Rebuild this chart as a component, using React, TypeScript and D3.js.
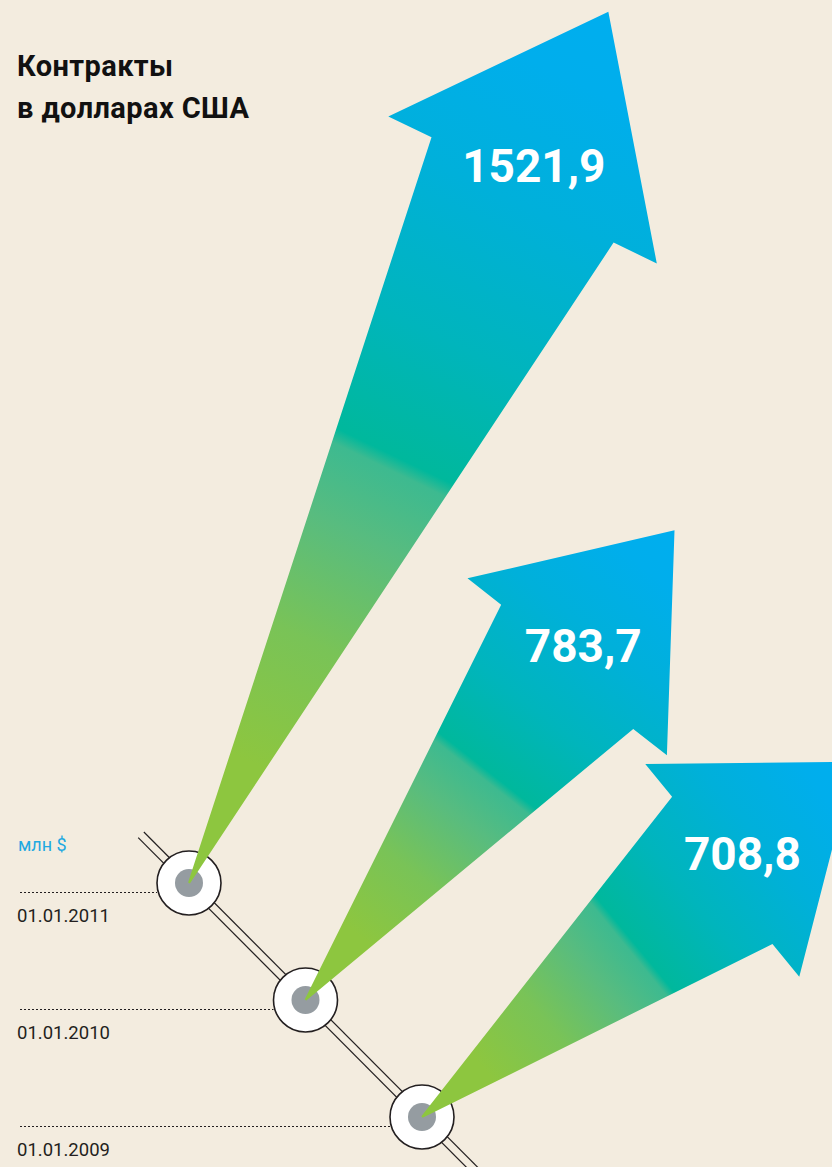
import { formatLocale, line, scaleLinear, scalePoint } from "d3";

// data
const dates = ["01.01.2011", "01.01.2010", "01.01.2009"];
const values = [1521.9, 783.7, 708.8];
const titleLines = ["Контракты", "в долларах США"];
const unitLabel = "млн $";

const W = 832;
const H = 1167;
const BG = "#F3ECDF";
const FONT = "Roboto, 'Open Sans', sans-serif";

const fmt = formatLocale({
  decimal: ",",
  thousands: "",
  grouping: [3],
  currency: ["", "$"],
}).format(".1f");

const gradStops: [number, string][] = [
  [0, "#8DC63F"],
  [0.14, "#8DC63F"],
  [0.28, "#79C357"],
  [0.4, "#58BC7F"],
  [0.475, "#3DBA90"],
  [0.49, "#00B89C"],
  [0.62, "#00B5BC"],
  [0.78, "#00B0DA"],
  [0.92, "#00AEEC"],
  [1, "#00AEEF"],
];

type Pt = [number, number];

export default function App() {
  // node positions along the diagonal track
  const xPos = scalePoint<string>().domain(dates).range([189, 422]);
  const yPos = scalePoint<string>().domain(dates).range([883, 1117]);
  // arrow direction (degrees above horizontal) and length from value
  const angle = scalePoint<string>().domain(dates).range([64.3, 39.4]);
  const lenScale = scaleLinear().domain([0, 1500]).range([205, 956]);
  const headLen = scaleLinear().domain([540, 970]).range([170, 198]);
  const barbHalf = scaleLinear().domain([540, 970]).range([130, 153]);
  const shoulderHalf = scaleLinear().domain([540, 970]).range([88, 105]);

  const poly = line<Pt>()
    .x((d) => d[0])
    .y((d) => d[1]);

  const first = dates[0];
  const last = dates[dates.length - 1];
  const dx0 = xPos(last)! - xPos(first)!;
  const dy0 = yPos(last)! - yPos(first)!;
  const dl = Math.hypot(dx0, dy0);
  const tx = dx0 / dl;
  const ty = dy0 / dl;
  const trackA: Pt = [xPos(first)! - tx * 68, yPos(first)! - ty * 68];
  const trackB: Pt = [xPos(last)! + tx * 90, yPos(last)! + ty * 90];
  const gap = 4;

  const arrows = dates.map((d, i) => {
    const ox = xPos(d)!;
    const oy = yPos(d)!;
    const a = (angle(d)! * Math.PI) / 180;
    const ux = Math.cos(a);
    const uy = -Math.sin(a);
    const nx = Math.sin(a);
    const ny = Math.cos(a);
    const L = lenScale(values[i]);
    const hl = headLen(L);
    const bh = barbHalf(L);
    const sh = shoulderHalf(L);
    const base = L - hl;
    const skew = 8;
    const P = (along: number, perp: number): Pt => [
      ox + ux * along + nx * perp,
      oy + uy * along + ny * perp,
    ];
    const pts: Pt[] = [
      P(0, -1),
      P(base + skew, -sh),
      P(base + skew, -bh),
      P(L, 0),
      P(base - skew, bh),
      P(base - skew, sh),
      P(0, 1),
    ];
    return {
      d,
      ox,
      oy,
      tip: P(L, 0),
      label: P(base + 26, 0),
      path: poly(pts.concat([pts[0]])) || "",
      text: fmt(values[i]),
    };
  });

  return (
    <svg
      width={W}
      height={H}
      style={{ position: "absolute", left: 0, top: 0, display: "block" }}
    >
      <defs>
        {arrows.map((a, i) => (
          <linearGradient
            key={a.d}
            id={`grad${i}`}
            gradientUnits="userSpaceOnUse"
            x1={a.ox}
            y1={a.oy}
            x2={a.tip[0]}
            y2={a.tip[1]}
          >
            {gradStops.map(([o, c]) => (
              <stop key={o} offset={o} stopColor={c} />
            ))}
          </linearGradient>
        ))}
      </defs>
      <rect width={W} height={H} fill={BG} />

      {/* title */}
      <text
        fontFamily={FONT}
        fontWeight={700}
        fontSize={29}
        letterSpacing={0.4}
        fill="#111"
      >
        {titleLines.map((t, i) => (
          <tspan key={t} x={17} y={76 + i * 42}>
            {t}
          </tspan>
        ))}
      </text>

      <text x={18} y={851} fontFamily={FONT} fontSize={18} fill="#1FA9E1">
        {unitLabel}
      </text>

      {/* double track */}
      {[-gap, gap].map((g) => (
        <line
          key={g}
          x1={trackA[0] - ty * g}
          y1={trackA[1] + tx * g}
          x2={trackB[0] - ty * g}
          y2={trackB[1] + tx * g}
          stroke="#231F20"
          strokeWidth={1.2}
        />
      ))}

      {/* dotted leaders and dates */}
      {dates.map((d) => (
        <g key={d}>
          <line
            x1={20}
            x2={xPos(d)! - 32}
            y1={yPos(d)! + 9.5}
            y2={yPos(d)! + 9.5}
            stroke="#231F20"
            strokeWidth={1}
            strokeDasharray="2 2"
          />
          <text
            x={17}
            y={yPos(d)! + 39}
            fontFamily={FONT}
            fontSize={18.5}
            fill="#231F20"
          >
            {d}
          </text>
        </g>
      ))}

      {/* nodes */}
      {dates.map((d) => (
        <g key={d}>
          <circle
            cx={xPos(d)}
            cy={yPos(d)}
            r={32}
            fill="#fff"
            stroke="#231F20"
            strokeWidth={1.6}
          />
          <circle cx={xPos(d)} cy={yPos(d)} r={14} fill="#959CA1" />
        </g>
      ))}

      {/* arrows */}
      {arrows.map((a, i) => (
        <g key={a.d}>
          <path d={a.path} fill={`url(#grad${i})`} />
          <text
            x={a.label[0]}
            y={a.label[1] + 16}
            textAnchor="middle"
            fontFamily={FONT}
            fontWeight={700}
            fontSize={46}
            fill="#fff"
          >
            {a.text}
          </text>
        </g>
      ))}
    </svg>
  );
}
